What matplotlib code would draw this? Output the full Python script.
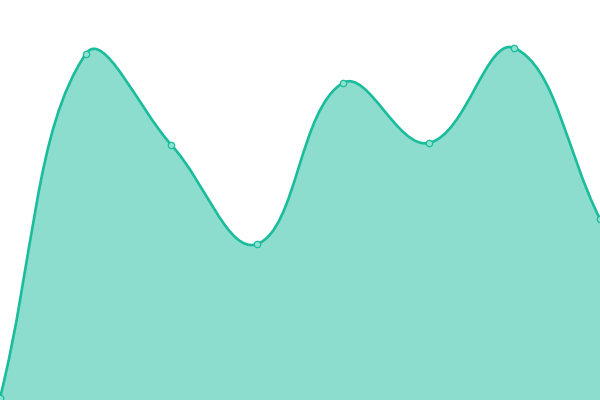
import numpy as np
from matplotlib import pyplot as plt
from matplotlib.path import Path
from matplotlib.patches import PathPatch

# values (y axis 0..400)
labels = ['1', '2', '3', '4', '5', '6', '7', '8']
values = [2, 346, 255, 156, 317, 257, 352, 181]

LINE = '#1abc9c'
FILL = '#1abc9c'
TENSION = 0.4
W, H = 600, 400


def spline_path(xs, ys, x_px, tension):
    """Cubic bezier path through the points (control points worked out in pixel space)."""
    px = np.asarray(xs, float) * x_px
    py = np.asarray(ys, float)
    n = len(px)
    cps = []
    for i in range(n):
        p0 = (px[max(i - 1, 0)], py[max(i - 1, 0)])
        p1 = (px[i], py[i])
        p2 = (px[min(i + 1, n - 1)], py[min(i + 1, n - 1)])
        d01 = np.hypot(p1[0] - p0[0], p1[1] - p0[1])
        d12 = np.hypot(p2[0] - p1[0], p2[1] - p1[1])
        s01 = d01 / (d01 + d12)
        s12 = d12 / (d01 + d12)
        fa, fb = tension * s01, tension * s12
        prev_cp = (p1[0] - fa * (p2[0] - p0[0]), p1[1] - fa * (p2[1] - p0[1]))
        next_cp = (p1[0] + fb * (p2[0] - p0[0]), p1[1] + fb * (p2[1] - p0[1]))
        cps.append((prev_cp, next_cp))

    verts = [(px[0] / x_px, py[0])]
    codes = [Path.MOVETO]
    for i in range(1, n):
        c1 = cps[i - 1][1]
        c2 = cps[i][0]
        verts += [(c1[0] / x_px, c1[1]), (c2[0] / x_px, c2[1]), (px[i] / x_px, py[i])]
        codes += [Path.CURVE4] * 3
    return verts, codes


x = np.arange(len(values))
x_px = W / (len(values) - 1)

fig = plt.figure(figsize=(6, 4), dpi=100)
ax = fig.add_axes([0, 0, 1, 1])
ax.set_xlim(0, len(values) - 1)
ax.set_ylim(0, H)
ax.axis('off')

verts, codes = spline_path(x, values, x_px, TENSION)

# area under the curve
area_verts = verts + [(x[-1], 0), (x[0], 0), verts[0]]
area_codes = codes + [Path.LINETO, Path.LINETO, Path.CLOSEPOLY]
ax.add_patch(PathPatch(Path(area_verts, area_codes), facecolor=FILL, alpha=0.5,
                       edgecolor='none'))

# the line itself
ax.add_patch(PathPatch(Path(verts, codes), facecolor='none', edgecolor=LINE,
                       linewidth=1.9, capstyle='round', joinstyle='round'))

ax.plot(x, values, 'o', markersize=4.6, markerfacecolor='#8ee0d0',
        markeredgecolor=LINE, markeredgewidth=0.9, zorder=5)

fig.savefig('out.png', dpi=100)
